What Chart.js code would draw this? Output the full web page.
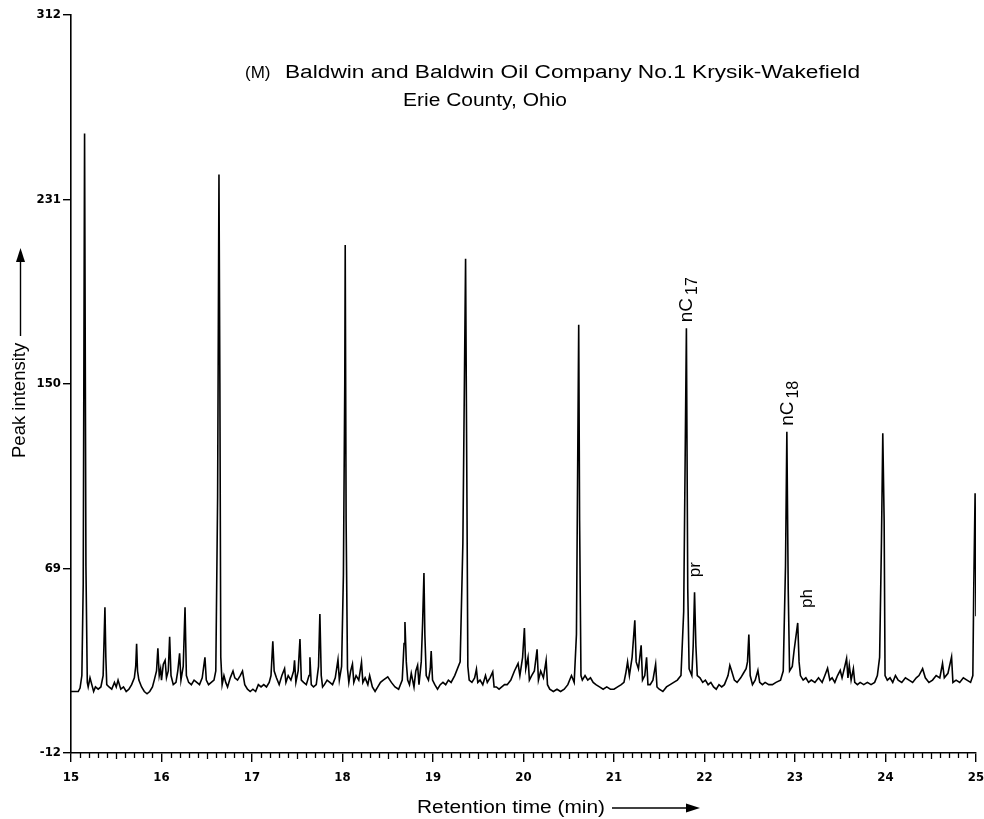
<!DOCTYPE html>
<html>
<head>
<meta charset="utf-8">
<title>Chromatogram - Krysik-Wakefield</title>
<script src="https://cdn.jsdelivr.net/npm/chart.js@4.4.1/dist/chart.umd.min.js"></script>
<style>
  html, body { margin: 0; padding: 0; background: #fff; overflow: hidden; }
  #wrap { width: 984px; height: 819px; position: relative; }
</style>
</head>
<body>
<div id="wrap"><canvas id="grafica"></canvas></div>
<script>
// eje y: valores marcados en la escala
const yTicks = [-12, 69, 150, 231, 312];
const xMin = 15, xMax = 25;

// traza del cromatograma: [tiempo (min), intensidad]
const cromatograma = [
  // 15 - 16 min
  [15.00, 15], [15.08, 15], [15.10, 16.5], [15.12, 22], [15.135, 62], [15.15, 260], [15.165, 70],
  [15.18, 19], [15.19, 17], [15.21, 21], [15.23, 18], [15.25, 15], [15.27, 17], [15.30, 16],
  [15.33, 17], [15.355, 22], [15.375, 52], [15.385, 30], [15.395, 18], [15.42, 17], [15.45, 16],
  [15.48, 19], [15.50, 17], [15.52, 20], [15.55, 16], [15.58, 17], [15.61, 15], [15.64, 16],
  [15.67, 18], [15.70, 21], [15.715, 26], [15.725, 36], [15.735, 24], [15.75, 20], [15.78, 17],
  [15.81, 15], [15.84, 14], [15.87, 15], [15.90, 17], [15.92, 20], [15.945, 24], [15.96, 34],
  [15.975, 22], [15.99, 25],
  // 16 - 17 min
  [16.00, 20], [16.02, 27], [16.04, 28.7], [16.055, 21], [16.075, 24], [16.09, 39], [16.105, 22],
  [16.13, 18], [16.16, 19], [16.18, 24], [16.20, 31.8], [16.215, 20], [16.24, 26], [16.26, 52],
  [16.275, 22], [16.30, 19], [16.33, 18], [16.36, 20], [16.39, 19], [16.42, 18], [16.45, 21],
  [16.48, 30], [16.495, 20], [16.52, 18], [16.55, 19], [16.58, 20], [16.60, 24], [16.62, 100],
  [16.635, 242], [16.645, 150], [16.655, 30], [16.67, 18], [16.69, 22], [16.71, 19], [16.73, 17],
  [16.76, 21], [16.79, 24], [16.81, 21], [16.84, 20], [16.87, 22], [16.895, 24], [16.92, 18],
  [16.95, 16], [16.98, 15],
  // 17 - 18 min
  [17.01, 16], [17.04, 15], [17.07, 18], [17.10, 17], [17.13, 18], [17.16, 17], [17.19, 19],
  [17.21, 22], [17.23, 37], [17.245, 24], [17.27, 21], [17.30, 18], [17.33, 22], [17.36, 25],
  [17.375, 19], [17.40, 22], [17.43, 20], [17.46, 24], [17.47, 28.7], [17.485, 19], [17.51, 24],
  [17.53, 38], [17.545, 20], [17.57, 19], [17.60, 18], [17.63, 22], [17.64, 30], [17.655, 18],
  [17.68, 17], [17.71, 18], [17.735, 26], [17.75, 49], [17.765, 22], [17.78, 17], [17.80, 18],
  [17.83, 20], [17.86, 19], [17.89, 18], [17.92, 21], [17.95, 29], [17.965, 20], [17.99, 26],
  // 18 - 19 min
  [18.01, 66], [18.025, 150], [18.03, 211], [18.04, 90], [18.055, 25], [18.07, 19], [18.09, 24],
  [18.11, 27], [18.125, 19], [18.15, 22], [18.18, 20], [18.21, 27.8], [18.225, 19], [18.25, 21],
  [18.28, 18], [18.30, 22], [18.33, 17], [18.36, 15], [18.39, 17], [18.42, 19], [18.45, 20],
  [18.50, 21.4], [18.54, 19], [18.58, 17], [18.62, 16], [18.66, 20], [18.68, 36], [18.69, 45.5],
  [18.705, 28], [18.72, 20], [18.74, 18], [18.76, 23], [18.79, 17], [18.81, 24], [18.83, 26.5],
  [18.845, 18], [18.87, 28], [18.885, 45], [18.90, 67], [18.91, 40], [18.925, 22], [18.95, 20],
  [18.97, 25], [18.98, 32.8], [18.995, 20],
  // 19 - 20 min
  [19.02, 18], [19.05, 16], [19.08, 18], [19.11, 19], [19.14, 18], [19.17, 20], [19.20, 19],
  [19.24, 22], [19.30, 28], [19.33, 80], [19.36, 205], [19.375, 100], [19.385, 26], [19.40, 20],
  [19.43, 19], [19.46, 21], [19.48, 24.8], [19.495, 19], [19.52, 20], [19.55, 18], [19.58, 22],
  [19.60, 19], [19.63, 21], [19.66, 23.6], [19.675, 17], [19.70, 17], [19.73, 16], [19.76, 17],
  [19.79, 18], [19.82, 18], [19.86, 20], [19.90, 24], [19.94, 27.3], [19.96, 22], [19.99, 30],
  // 20 - 21 min
  [20.01, 42.9], [20.025, 25], [20.05, 30], [20.065, 20], [20.09, 22], [20.12, 24], [20.15, 33.5],
  [20.165, 20], [20.19, 24], [20.22, 21], [20.25, 28.7], [20.265, 18], [20.29, 16], [20.33, 15],
  [20.37, 16], [20.41, 15], [20.45, 16], [20.49, 18], [20.53, 22], [20.56, 19], [20.585, 40],
  [20.61, 176], [20.62, 90], [20.635, 22], [20.65, 20], [20.68, 22], [20.71, 20], [20.74, 21],
  [20.77, 19], [20.80, 18], [20.84, 17], [20.88, 16], [20.92, 17], [20.96, 16],
  // 21 - 22 min
  [21.00, 16], [21.04, 17], [21.08, 18], [21.11, 19], [21.13, 23], [21.15, 28], [21.17, 22],
  [21.20, 30], [21.23, 46.3], [21.245, 28], [21.27, 25], [21.30, 35.3], [21.315, 20], [21.34, 22],
  [21.36, 30], [21.375, 18], [21.40, 18], [21.43, 20], [21.46, 27], [21.475, 17], [21.50, 16],
  [21.54, 15], [21.58, 17], [21.62, 18], [21.66, 19], [21.70, 20], [21.74, 22], [21.77, 50],
  [21.80, 174.5], [21.815, 60], [21.83, 25], [21.86, 22], [21.875, 35], [21.89, 58.6], [21.905, 35],
  [21.92, 22], [21.95, 21], [21.98, 19],
  // 22 - 23 min
  [22.01, 20], [22.04, 18], [22.07, 19], [22.10, 17], [22.13, 16], [22.16, 18], [22.19, 17],
  [22.22, 18], [22.26, 22], [22.28, 26.5], [22.30, 24], [22.33, 20], [22.36, 19], [22.40, 21],
  [22.43, 23], [22.46, 25], [22.475, 28], [22.49, 40], [22.505, 22], [22.53, 18], [22.56, 20],
  [22.59, 24.3], [22.61, 19], [22.64, 18], [22.67, 19], [22.71, 18], [22.75, 18], [22.79, 19],
  [22.84, 20], [22.87, 24], [22.895, 70], [22.91, 129], [22.925, 60], [22.94, 24], [22.97, 26],
  [22.99, 33],
  // 23 - 24 min
  [23.03, 45.1], [23.045, 28], [23.06, 22], [23.09, 20], [23.12, 21], [23.15, 19], [23.18, 20],
  [23.22, 19], [23.26, 21], [23.30, 19], [23.33, 22], [23.36, 25.2], [23.385, 20], [23.41, 21],
  [23.44, 19], [23.47, 22], [23.50, 24.3], [23.52, 21], [23.55, 26], [23.57, 29.5], [23.585, 21],
  [23.60, 26.5], [23.62, 20], [23.645, 25], [23.66, 19], [23.69, 18], [23.72, 19], [23.76, 18],
  [23.80, 19], [23.84, 18], [23.88, 19], [23.91, 22], [23.935, 30], [23.955, 80], [23.97, 128.4],
  [23.985, 90], [23.995, 22],
  // 24 - 25 min
  [24.02, 20], [24.05, 21], [24.08, 19], [24.11, 22], [24.14, 20], [24.18, 19], [24.22, 21],
  [24.26, 20], [24.30, 19], [24.34, 21], [24.37, 22], [24.41, 25], [24.44, 21], [24.48, 19],
  [24.52, 20], [24.56, 22], [24.60, 21], [24.63, 27.3], [24.65, 21], [24.69, 23], [24.73, 30.2],
  [24.745, 19], [24.78, 20], [24.82, 19], [24.86, 21], [24.90, 20], [24.94, 19], [24.965, 22],
  [24.975, 60], [24.99, 102], [25.00, 48]
];

// picos identificados (texto, subindice, tiempo del pico)
const picoTexto = ['nC', 'nC', 'pr', 'ph'];
const picoSub = ['17', '18', '', ''];
const picoTiempo = [21.80, 22.91, 21.89, 23.03];

const tituloLinea1 = 'Baldwin and Baldwin Oil Company No.1 Krysik-Wakefield';
const tituloLinea2 = 'Erie County, Ohio';

function intensidadEn(t) {
  const p = cromatograma.find(d => Math.abs(d[0] - t) < 1e-6);
  return p ? p[1] : 0;
}

const fuenteTexto = '"Liberation Sans", Arial, Helvetica, sans-serif';

// texto horizontal estirado hasta un ancho dado (tipografia ancha del original)
function textoAncho(ctx, txt, x, y, ancho) {
  const w = ctx.measureText(txt).width;
  ctx.save();
  ctx.translate(x, y);
  ctx.scale(ancho / w, 1);
  ctx.fillText(txt, 0, 0);
  ctx.restore();
}

const decoraciones = {
  id: 'decoraciones',
  afterDraw(chart) {
    const ctx = chart.ctx;
    const sx = chart.scales.x, sy = chart.scales.y;
    const base = chart.chartArea.bottom;
    ctx.save();
    ctx.strokeStyle = '#000';
    ctx.fillStyle = '#000';

    // marcas menores cada 0.1 min
    ctx.lineWidth = 1.3;
    for (let i = 0; i <= (xMax - xMin) * 10; i++) {
      if (i % 10 === 0) continue;
      const px = Math.round(sx.getPixelForValue(xMin + i / 10)) + 0.5;
      const largo = i % 5 === 0 ? 6 : 5;
      ctx.beginPath();
      ctx.moveTo(px, base);
      ctx.lineTo(px, base + largo);
      ctx.stroke();
    }

    // titulo
    ctx.textBaseline = 'middle';
    ctx.textAlign = 'left';
    ctx.font = '17px ' + fuenteTexto;
    ctx.fillText('(M)', 245, 73);
    ctx.font = '18px ' + fuenteTexto;
    textoAncho(ctx, tituloLinea1, 285, 73, 575);
    textoAncho(ctx, tituloLinea2, 403, 101, 164);

    // titulo eje x con flecha
    textoAncho(ctx, 'Retention time (min)', 417, 808, 188);
    ctx.lineWidth = 1.4;
    ctx.beginPath();
    ctx.moveTo(612, 808);
    ctx.lineTo(690, 808);
    ctx.stroke();
    ctx.beginPath();
    ctx.moveTo(700, 808);
    ctx.lineTo(686, 803.5);
    ctx.lineTo(686, 812.5);
    ctx.closePath();
    ctx.fill();

    // titulo eje y con flecha
    ctx.save();
    ctx.translate(20, 458);
    ctx.rotate(-Math.PI / 2);
    ctx.font = '18.5px ' + fuenteTexto;
    ctx.fillText('Peak intensity', 0, 0);
    ctx.restore();
    ctx.beginPath();
    ctx.moveTo(20.5, 336);
    ctx.lineTo(20.5, 258);
    ctx.stroke();
    ctx.beginPath();
    ctx.moveTo(20.5, 248);
    ctx.lineTo(16, 262);
    ctx.lineTo(25, 262);
    ctx.closePath();
    ctx.fill();

    // etiquetas de picos, giradas
    picoTexto.forEach((txt, i) => {
      const t = picoTiempo[i];
      const px = sx.getPixelForValue(t);
      const py = sy.getPixelForValue(intensidadEn(t));
      const sub = picoSub[i];
      ctx.save();
      ctx.textBaseline = 'alphabetic';
      if (sub) {
        ctx.translate(px, py - 6);
        ctx.rotate(-Math.PI / 2);
        ctx.font = '19px ' + fuenteTexto;
        ctx.fillText(txt, 0, 6);
        const w = ctx.measureText(txt).width;
        ctx.font = '16px ' + fuenteTexto;
        ctx.fillText(sub, w + 3, 11);
      } else {
        ctx.translate(px, py - 15);
        ctx.rotate(-Math.PI / 2);
        ctx.font = '17px ' + fuenteTexto;
        ctx.fillText(txt, 0, i === 2 ? 5 : 14);
      }
      ctx.restore();
    });
    ctx.restore();
  }
};

new Chart(document.getElementById('grafica').getContext('2d'), {
  type: 'line',
  data: {
    datasets: [{
      label: 'Cromatograma',
      data: cromatograma.map(d => ({ x: d[0], y: d[1] })),
      borderColor: '#000',
      borderWidth: 1.6,
      pointRadius: 0,
      tension: 0,
      fill: false
    }]
  },
  options: {
    responsive: true,
    maintainAspectRatio: false,
    animation: false,
    layout: { padding: { top: 15, right: 8, bottom: 0, left: 0 } },
    plugins: {
      legend: { display: false },
      tooltip: { enabled: false }
    },
    scales: {
      x: {
        type: 'linear',
        min: xMin,
        max: xMax,
        afterFit: s => { s.height = 66; s.paddingLeft = 0; s.paddingRight = 0; },
        ticks: {
          stepSize: 1,
          padding: 8,
          color: '#000',
          font: { family: '"DejaVu Sans Condensed", "DejaVu Sans", sans-serif', size: 13, weight: 'bold' }
        },
        grid: { drawOnChartArea: false, drawTicks: true, tickLength: 9, color: '#000', lineWidth: 1.4 },
        border: { color: '#000', width: 1.6 }
      },
      y: {
        min: -12,
        max: 312,
        afterFit: s => { s.width = 71; },
        afterBuildTicks: s => { s.ticks = yTicks.map(v => ({ value: v })); },
        ticks: {
          padding: 2,
          color: '#000',
          font: { family: '"DejaVu Sans Condensed", "DejaVu Sans", sans-serif', size: 13, weight: 'bold' }
        },
        grid: { drawOnChartArea: false, drawTicks: true, tickLength: 8, color: '#000', lineWidth: 1.4 },
        border: { color: '#000', width: 1.6 }
      }
    }
  },
  plugins: [decoraciones]
});
</script>
</body>
</html>
